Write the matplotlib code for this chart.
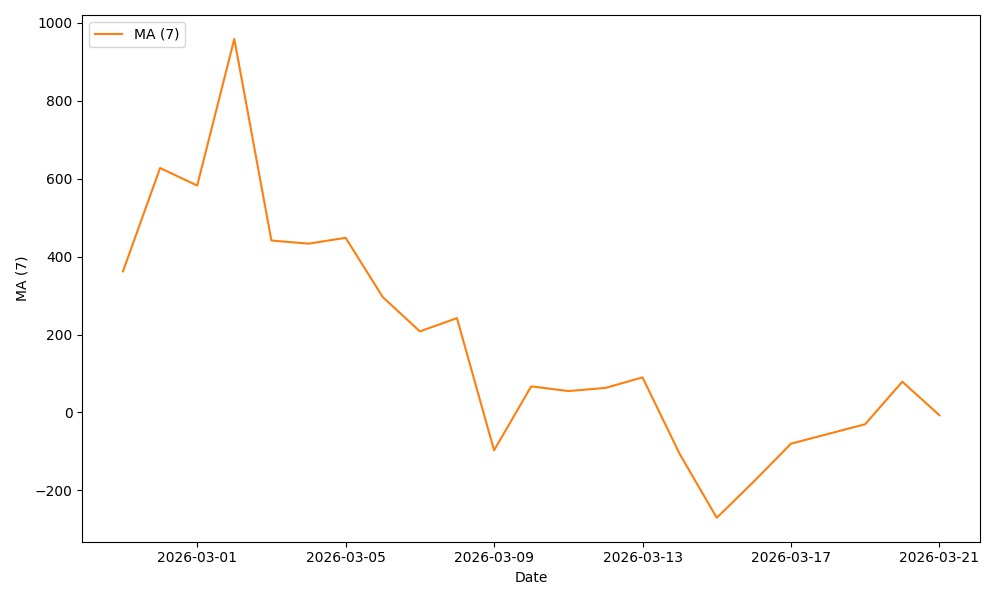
import pandas as pd
import matplotlib
matplotlib.use("Agg")
import matplotlib.pyplot as plt

# daily dates, 7-day moving average values
dates = pd.date_range("2026-02-27", "2026-03-21", freq="D")
ma7 = [362, 627, 582, 958, 441, 433, 448, 296, 208, 242,
       -97, 67, 55, 63, 90, -106, -270, -177, -80, -55,
       -30, 79, -7]

plt.figure(figsize=(10, 6))
plt.plot(dates, ma7, color="C1", label="MA (7)")
plt.xlabel("Date")
plt.ylabel("MA (7)")
plt.legend(loc="upper left")
plt.tight_layout()
plt.savefig("out.png", dpi=100)
plt.close()
